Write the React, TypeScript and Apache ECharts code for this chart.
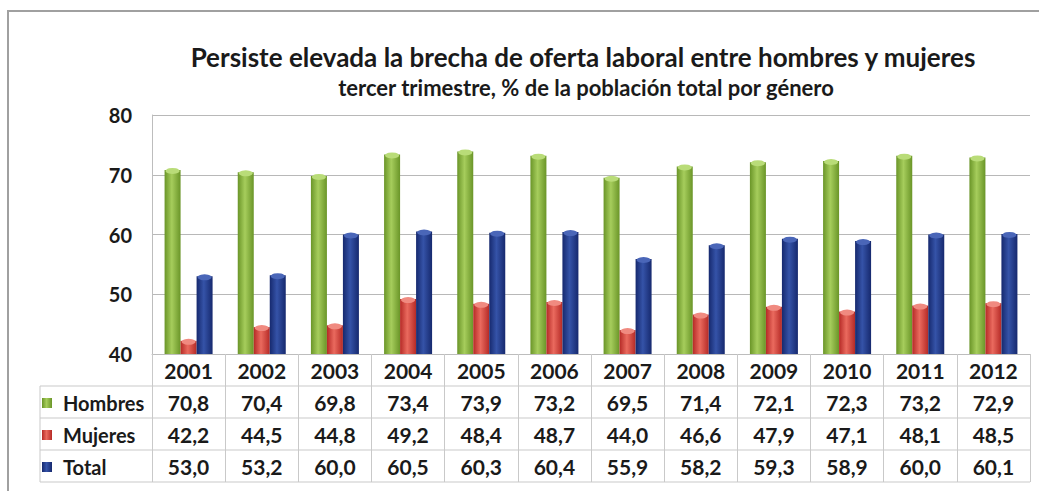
import React, { useEffect, useRef } from "react";
import * as echarts from "echarts";

const years = ["2001","2002","2003","2004","2005","2006","2007","2008","2009","2010","2011","2012"];
const hombres = [70.8,70.4,69.8,73.4,73.9,73.2,69.5,71.4,72.1,72.3,73.2,72.9];
const mujeres = [42.2,44.5,44.8,49.2,48.4,48.7,44.0,46.6,47.9,47.1,48.1,48.5];
const total = [53.0,53.2,60.0,60.5,60.3,60.4,55.9,58.2,59.3,58.9,60.0,60.1];
const seriesNames = ["Hombres","Mujeres","Total"];
const yTicks = [40, 50, 60, 70, 80];

const FONT = "Lato";
const fmt = (v: number) => v.toFixed(1).replace(".", ",");

const grad = (dark: string, light: string) =>
  new echarts.graphic.LinearGradient(0, 0, 1, 0, [
    { offset: 0, color: dark },
    { offset: 0.45, color: light },
    { offset: 1, color: dark },
  ]);

export default function App() {
  const ref = useRef<HTMLDivElement>(null);
  useEffect(() => {
    if (!ref.current) return;
    const chart = echarts.init(ref.current, undefined, { renderer: "svg" });
    const gridLeft = 152, gridRight = 1030, axisY = 354, rowH = 32;
    const tableLineColor = "#c9c9c9";
    const hLines: any[] = [];
    for (let r = 1; r <= 4; r++) {
      const y = axisY + r * rowH;
      hLines.push({ type: "line", shape: { x1: 40, y1: y, x2: gridRight, y2: y }, style: { stroke: tableLineColor, lineWidth: 1 } });
    }
    hLines.push({ type: "line", shape: { x1: 40, y1: axisY + rowH, x2: 40, y2: axisY + 4 * rowH }, style: { stroke: tableLineColor, lineWidth: 1 } });
    const colors = [grad("#6a9528", "#a6cd5c"), grad("#b52a26", "#ea6a5e"), grad("#16296e", "#3553a8")];
    const capColors = ["#b9dc78", "#f08a80", "#4a66b8"];
    const datas = [hombres, mujeres, total];
    const series: any[] = datas.map((d, i) => ({
      name: seriesNames[i],
      type: "bar",
      data: d,
      barWidth: 16,
      barGap: "0%",
      itemStyle: { color: colors[i] },
    }));
    datas.forEach((d, i) => {
      series.push({
        name: seriesNames[i] + " cap",
        type: "pictorialBar",
        data: d,
        symbol: "circle",
        symbolSize: [14, 6],
        symbolPosition: "end",
        symbolOffset: [(i - 1) * 16, -2],
        barWidth: 16,
        barGap: "-100%",
        z: 3,
        itemStyle: { color: capColors[i] },
        silent: true,
      });
    });
    chart.setOption({
      animation: false,
      textStyle: { fontFamily: FONT },
      title: [
        { text: "Persiste elevada la brecha de oferta laboral entre hombres y mujeres", left: 578, top: 39, textAlign: "center",
          textStyle: { fontFamily: FONT, fontSize: 26, fontWeight: "bold", color: "#1a1a1a" } },
        { text: "tercer trimestre, % de la población total por género", left: 581, top: 71, textAlign: "center",
          textStyle: { fontFamily: FONT, fontSize: 22, fontWeight: "bold", color: "#1a1a1a" } },
      ],
      legend: {
        orient: "vertical", left: 42, top: 393, padding: 0, itemGap: 12,
        itemWidth: 10, itemHeight: 10, icon: "rect",
        data: seriesNames,
        textStyle: { fontFamily: FONT, fontSize: 20, fontWeight: "bold", color: "#1a1a1a", lineHeight: 20, padding: [0, 0, 0, 6] },
      },
      grid: { left: gridLeft, right: 1039 - gridRight, top: 115, bottom: 491 - axisY },
      xAxis: {
        type: "category",
        data: years,
        axisLine: { show: true, lineStyle: { color: "#bdbdbd" } },
        axisTick: { show: true, length: 4 * rowH, lineStyle: { color: tableLineColor } },
        axisLabel: {
          margin: 0,
          interval: 0,
          formatter: (v: string, idx: number) =>
            `{y|${v}}\n{v|${fmt(hombres[idx])}}\n{v|${fmt(mujeres[idx])}}\n{v|${fmt(total[idx])}}`,
          rich: {
            y: { fontFamily: FONT, fontSize: 21, fontWeight: "bold", color: "#1a1a1a", lineHeight: rowH },
            v: { fontFamily: FONT, fontSize: 21, fontWeight: "bold", color: "#1a1a1a", lineHeight: rowH },
          },
        },
      },
      yAxis: {
        type: "value",
        min: yTicks[0],
        max: yTicks[yTicks.length - 1],
        interval: 10,
        axisLine: { show: true, lineStyle: { color: "#bdbdbd" } },
        axisTick: { show: false },
        splitLine: { lineStyle: { color: "#b8b8b8" } },
        axisLabel: { margin: 20, fontFamily: FONT, fontSize: 20, fontWeight: "bold", color: "#1a1a1a" },
      },
      series,
      graphic: [
        { type: "line", shape: { x1: 7, y1: 11, x2: 1039, y2: 11 }, style: { stroke: "#a0a0a0", lineWidth: 2 } },
        { type: "line", shape: { x1: 8, y1: 10, x2: 8, y2: 491 }, style: { stroke: "#a0a0a0", lineWidth: 2 } },
        ...hLines,
      ],
    });
    return () => chart.dispose();
  }, []);
  return <div ref={ref} style={{ position: "fixed", left: 0, top: 0, width: 1039, height: 491, background: "#fff" }} />;
}
